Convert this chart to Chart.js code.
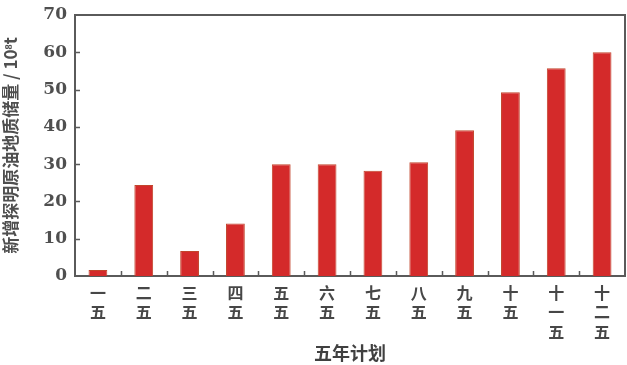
<!DOCTYPE html>
<html>
<head>
<meta charset="utf-8">
<script src="https://cdn.jsdelivr.net/npm/chart.js@4"></script>
<style>
  html, body { margin: 0; padding: 0; background: #fff; }
  #wrap { width: 627px; height: 365px; }
</style>
</head>
<body>
<div id="wrap"><canvas id="reserveChart"></canvas></div>
<script>
// five-year plans, stacked one character per line
const plans = [
  ['一', '五'], ['二', '五'], ['三', '五'], ['四', '五'],
  ['五', '五'], ['六', '五'], ['七', '五'], ['八', '五'],
  ['九', '五'], ['十', '五'], ['十', '一', '五'], ['十', '二', '五']
];
// newly proven oil-in-place, 10^8 t
const reserves = [1.6, 24.4, 6.7, 14.1, 30.0, 30.0, 28.2, 30.5, 39.1, 49.3, 55.7, 60.0];
const yTicks = [0, 10, 20, 30, 40, 50, 60, 70];

const frameColor = '#5a5a5a';

// inward tick marks + top/right frame lines
const frameTicks = {
  id: 'frameTicks',
  afterDraw(chart) {
    const { ctx, chartArea: a, scales } = chart;
    ctx.save();
    ctx.strokeStyle = frameColor;
    ctx.lineWidth = 2;
    ctx.beginPath();
    ctx.moveTo(a.left, a.top);
    ctx.lineTo(a.right, a.top);
    ctx.lineTo(a.right, a.bottom);
    ctx.stroke();

    ctx.lineWidth = 1.5;
    ctx.beginPath();
    yTicks.forEach(v => {
      if (v === 0 || v === 70) return;
      const y = Math.round(scales.y.getPixelForValue(v)) + 0.5;
      ctx.moveTo(a.left, y);
      ctx.lineTo(a.left + 5, y);
    });
    const x = scales.x;
    const half = (x.getPixelForValue(1) - x.getPixelForValue(0)) / 2;
    for (let i = 0; i < plans.length - 1; i++) {
      const px = Math.round(x.getPixelForValue(i) + half) + 0.5;
      ctx.moveTo(px, a.bottom);
      ctx.lineTo(px, a.bottom - 5);
    }
    ctx.stroke();
    ctx.restore();
  }
};

new Chart(document.getElementById('reserveChart'), {
  type: 'bar',
  data: {
    labels: plans,
    datasets: [{
      data: reserves,
      backgroundColor: '#d42a2a',
      borderColor: '#c2452c',
      borderWidth: 1,
      barPercentage: 1,
      categoryPercentage: 0.41
    }]
  },
  options: {
    responsive: true,
    maintainAspectRatio: false,
    animation: false,
    layout: { padding: { top: 15, right: 2, left: 0, bottom: 0 } },
    plugins: {
      legend: { display: false },
      tooltip: { enabled: false }
    },
    scales: {
      x: {
        grid: { display: false, drawTicks: false },
        border: { color: frameColor, width: 2 },
        ticks: {
          color: '#474747',
          font: { family: 'Noto Sans CJK SC', size: 16, weight: 'bold', lineHeight: 1.22 },
          padding: 7,
          maxRotation: 0,
          autoSkip: false
        },
        title: {
          display: true,
          text: '五年计划',
          color: '#404040',
          font: { family: 'Noto Sans CJK SC', size: 18, weight: 'bold' },
          padding: { top: 0, bottom: 1 }
        },
        afterFit(scale) {
          scale.height = 89;
          scale.paddingLeft = 0;
          scale.paddingRight = 0;
        }
      },
      y: {
        min: 0,
        max: 70,
        afterBuildTicks(scale) { scale.ticks = yTicks.map(v => ({ value: v })); },
        grid: { display: false, drawTicks: false },
        border: { color: frameColor, width: 2 },
        ticks: {
          color: '#4f4f4f',
          font: { family: 'DejaVu Serif', size: 17, weight: 'bold' },
          padding: 8
        },
        title: {
          display: true,
          text: '新增探明原油地质储量 / 10⁸t',
          color: '#4f4f4f',
          font: { family: 'Noto Sans CJK SC', size: 17, weight: 'bold' },
          padding: { top: 0, bottom: 2 }
        },
        afterFit(scale) {
          scale.width = 75;
          scale.paddingTop = 0;
          scale.paddingBottom = 0;
        }
      }
    }
  },
  plugins: [frameTicks]
});
</script>
</body>
</html>
